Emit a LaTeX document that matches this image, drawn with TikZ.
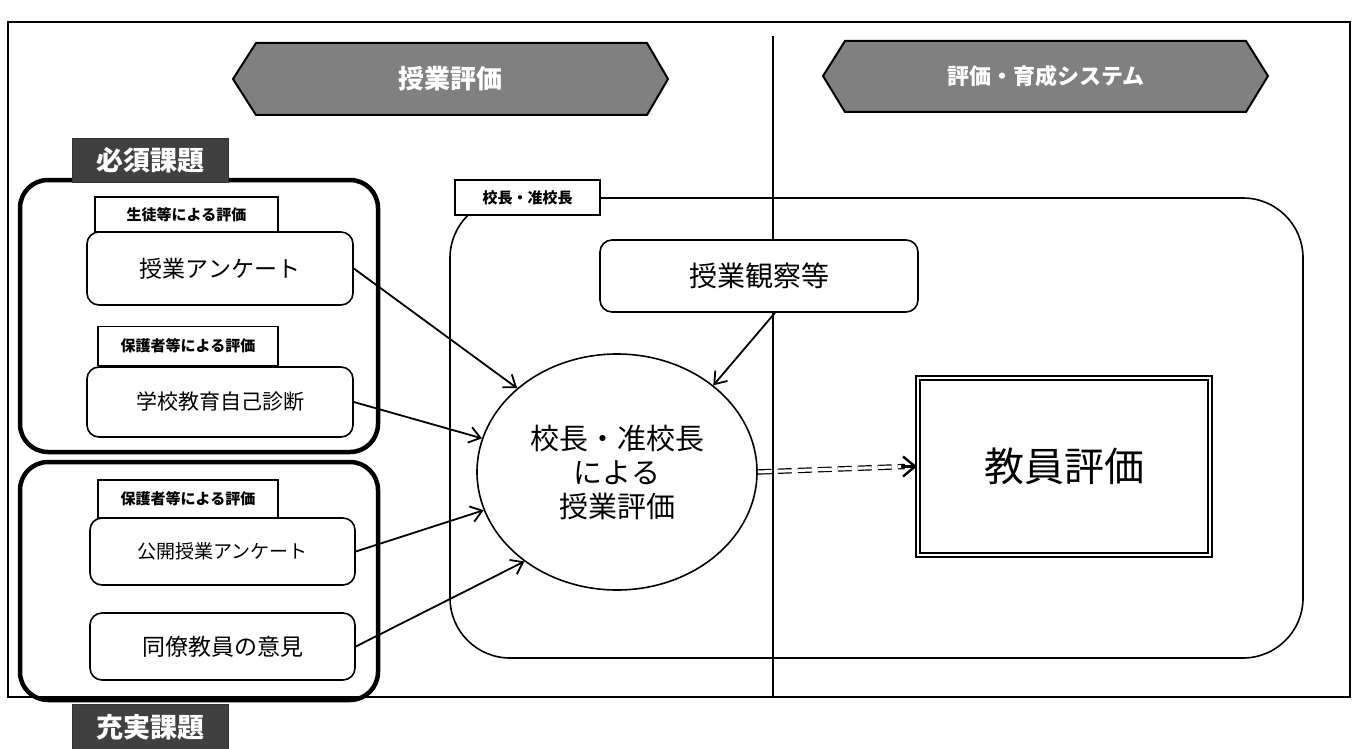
\documentclass[tikz,border=0pt]{standalone}
\usepackage{fontspec}
\setmainfont{Noto Sans CJK JP}
\usetikzlibrary{shapes.geometric,arrows.meta,calc}
\tikzset{
  box/.style={draw, line width=1.6pt, rounded corners=12pt, fill=white, align=center, inner sep=0pt},
  tagbox/.style={draw, line width=1.3pt, fill=white, inner sep=0pt, font=\fontsize{15}{17}\selectfont\bfseries},
  groupbox/.style={draw, line width=4.5pt, rounded corners=28pt},
  darklabel/.style={fill=black!75, draw=black!80, text=white, inner sep=0pt, font=\fontsize{27}{30}\selectfont\bfseries},
  hexfill/.style={draw, line width=2pt, fill=black!50},
  arr/.style={line width=1.8pt, -{Straight Barb[length=11pt,width=16pt,line width=1.8pt]}},
}
\begin{document}
\begin{tikzpicture}[x=1pt,y=-1pt]
\useasboundingbox (0,0) rectangle (1359,749);
% outer frame
\draw[line width=2.5pt] (8,22) rectangle (1350,697);
% divider
\draw[line width=1.2pt] (773,36) -- (773,697);
% hexagons
\draw[hexfill] (233,79) -- (256,43) -- (647,43) -- (668,79) -- (647,115) -- (256,115) -- cycle;
\node[text=white, font=\fontsize{26}{28}\selectfont\bfseries] (h1) at (450,79) {授業評価};
\draw[hexfill] (823,76) -- (845,41) -- (1246,41) -- (1268,76) -- (1246,112) -- (845,112) -- cycle;
\node[text=white, font=\fontsize{22}{24}\selectfont\bfseries] (h2) at (1046,76) {評価・育成システム};
% big container
\draw[line width=1.6pt, rounded corners=60pt] (450,198) rectangle (1303,658);
\node[tagbox, minimum width=145pt, minimum height=35pt] (kocho) at (527.5,197.5) {校長・准校長};
% group boxes
\draw[groupbox] (20,180) rectangle (378,452);
\draw[groupbox] (20,462) rectangle (378,700);
\node[darklabel, minimum width=156pt, minimum height=44pt] (hissu) at (150,160) {必須課題};
\node[darklabel, minimum width=156pt, minimum height=46pt] (juji) at (150,727) {充実課題};
% left items
\node[tagbox, minimum width=183pt, minimum height=35pt] (lab1) at (186.5,214.5) {生徒等による評価};
\node[box, minimum width=266pt, minimum height=73pt, font=\fontsize{23}{25}\selectfont] (q1) at (220,268.5) {授業アンケート};
\node[tagbox, minimum width=180pt, minimum height=39pt] (lab2) at (188,346) {保護者等による評価};
\node[box, minimum width=266pt, minimum height=70pt, font=\fontsize{21}{23}\selectfont] (q2) at (220,402) {学校教育自己診断};
\node[tagbox, minimum width=180pt, minimum height=38pt] (lab3) at (188,499) {保護者等による評価};
\node[box, minimum width=265pt, minimum height=67pt, font=\fontsize{19}{22}\selectfont] (q3) at (222.5,551.5) {公開授業アンケート};
\node[box, minimum width=265pt, minimum height=67pt, font=\fontsize{23}{25}\selectfont] (q4) at (222.5,646.5) {同僚教員の意見};
% center
\node[box, minimum width=318pt, minimum height=72pt, font=\fontsize{28}{30}\selectfont] (obs) at (759,276) {授業観察等};
\node[draw, line width=1.6pt, ellipse, fill=white, minimum width=280pt, minimum height=236pt, align=center, font=\fontsize{29}{34}\selectfont] (ell) at (617,472) {校長・准校長\\による\\授業評価};
\node[draw, line width=2.2pt, double, double distance=1.5pt, minimum width=292pt, minimum height=177pt, font=\fontsize{40}{44}\selectfont] (kyo) at (1064,466.5) {教員評価};
% arrows
\draw[arr] (q1.east) -- (ell.140);
\draw[arr] (q2.east) -- (ell.166);
\draw[arr] (q3.east) -- (ell.196);
\draw[arr] (q4.east) -- (ell.224);
\draw[arr] ([xshift=16pt]obs.south) -- (ell.42);
\draw[line width=1.2pt, double, double distance=3pt, dash pattern=on 14pt off 6pt] (ell.east) -- ([xshift=-12pt]kyo.west);
\draw[line width=2.4pt, -{Straight Barb[length=12pt,width=20pt,line width=2.4pt]}] ([xshift=-16pt]kyo.west) -- (kyo.west);
\end{tikzpicture}
\end{document}
